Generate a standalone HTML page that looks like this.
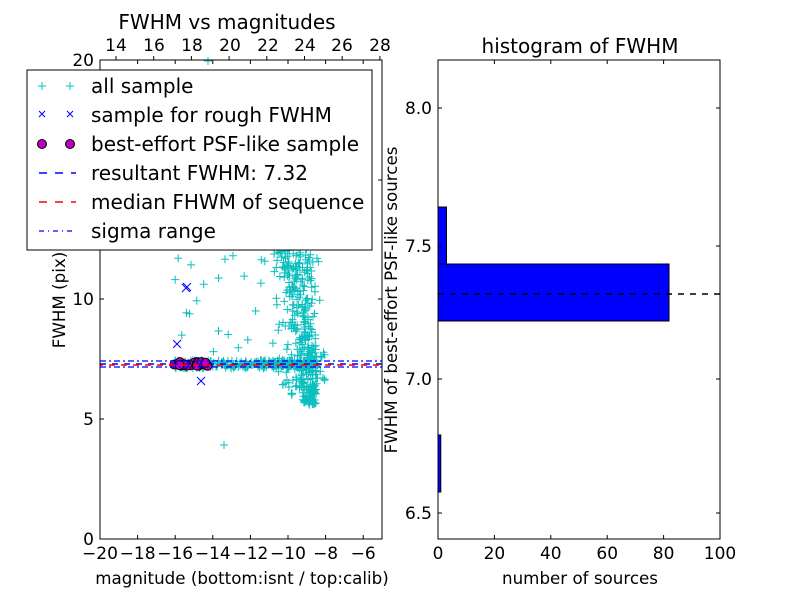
<!DOCTYPE html>
<html><head><meta charset="utf-8"><style>
body{margin:0;background:#fff;}
svg text{font-family:"DejaVu Sans","Liberation Sans",sans-serif;fill:#000;}
</style></head><body>
<svg id="s" width="800" height="600" xmlns="http://www.w3.org/2000/svg">
<rect width="800" height="600" fill="#fff"/>
<g id="pts"></g>
<line x1="100" y1="364" x2="382" y2="364" stroke="#00f" stroke-width="1.5" stroke-dasharray="6,6"/>
<line x1="100" y1="365" x2="382" y2="365" stroke="#f00" stroke-width="1.5" stroke-dasharray="6,6" stroke-dashoffset="3"/>
<line x1="100" y1="361" x2="382" y2="361" stroke="#00f" stroke-width="1.2" stroke-dasharray="6,3,2,3"/>
<line x1="100" y1="367" x2="382" y2="367" stroke="#00f" stroke-width="1.2" stroke-dasharray="6,3,2,3"/>
<rect x="100" y="60" width="282" height="479" fill="none" stroke="#000"/>
<g id="lt" stroke="#000"></g>
<g font-size="17" text-anchor="middle">
<text x="100" y="559">−20</text><text x="137.6" y="559">−18</text><text x="175.2" y="559">−16</text><text x="212.8" y="559">−14</text><text x="250.4" y="559">−12</text><text x="288" y="559">−10</text><text x="325.6" y="559">−8</text><text x="363.2" y="559">−6</text>
<text x="116" y="51">14</text><text x="154" y="51">16</text><text x="192" y="51">18</text><text x="230" y="51">20</text><text x="268" y="51">22</text><text x="305" y="51">24</text><text x="342" y="51">26</text><text x="380" y="51">28</text>
</g>
<g font-size="17" text-anchor="end">
<text x="94" y="545">0</text><text x="94" y="425">5</text><text x="94" y="305">10</text><text x="94" y="66">20</text>
</g>
<text x="227" y="29" font-size="20" text-anchor="middle">FWHM vs magnitudes</text>
<text x="242" y="584" font-size="16.7" text-anchor="middle">magnitude (bottom:isnt / top:calib)</text>
<text transform="translate(65,300) rotate(-90)" font-size="16.7" text-anchor="middle">FWHM (pix)</text>
<rect x="27" y="70" width="345" height="180" fill="#fff" stroke="#000"/>
<g font-size="20">
<text x="91" y="93">all sample</text><text x="91" y="122">sample for rough FWHM</text><text x="91" y="151">best-effort PSF-like sample</text><text x="91" y="180">resultant FWHM: 7.32</text><text x="91" y="209">median FHWM of sequence</text><text x="91" y="238">sigma range</text>
</g>
<g stroke="#0bbfbf" stroke-width="1"><path d="M38,86h8M42,82v8M66,86h8M70,82v8"/></g>
<g stroke="#00f" stroke-width="1"><path d="M39,111l6,6M45,111l-6,6M67,111l6,6M73,111l-6,6"/></g>
<circle cx="42" cy="144" r="4.5" fill="#bf00bf" stroke="#000"/><circle cx="70" cy="144" r="4.5" fill="#bf00bf" stroke="#000"/>
<line x1="39" y1="173" x2="76" y2="173" stroke="#00f" stroke-width="1.5" stroke-dasharray="8,8"/>
<line x1="39" y1="202" x2="76" y2="202" stroke="#f00" stroke-width="1.5" stroke-dasharray="8,8"/>
<line x1="39" y1="231" x2="76" y2="231" stroke="#00f" stroke-width="1.2" stroke-dasharray="5,4,1,4"/>
<rect x="438" y="435" width="2.8" height="57" fill="#00f" stroke="#000"/>
<rect x="438" y="207" width="8.5" height="57" fill="#00f" stroke="#000"/>
<rect x="438" y="264" width="231" height="57" fill="#00f" stroke="#000"/>
<line x1="438" y1="294" x2="720" y2="294" stroke="#000" stroke-width="1.5" stroke-dasharray="6,6"/>
<rect x="438" y="60" width="282" height="479" fill="none" stroke="#000"/>
<g id="rt" stroke="#000"></g>
<g font-size="17" text-anchor="middle">
<text x="438" y="559">0</text><text x="494.4" y="559">20</text><text x="550.8" y="559">40</text><text x="607.2" y="559">60</text><text x="663.6" y="559">80</text><text x="720" y="559">100</text>
</g>
<g font-size="17" text-anchor="end">
<text x="432" y="114">8.0</text><text x="432" y="252">7.5</text><text x="432" y="385">7.0</text><text x="432" y="519">6.5</text>
</g>
<text x="580" y="53" font-size="20" text-anchor="middle">histogram of FWHM</text>
<text x="580" y="584" font-size="16.7" text-anchor="middle">number of sources</text>
<text transform="translate(397,300) rotate(-90)" font-size="16.7" text-anchor="middle">FWHM of best-effort PSF-like sources</text>
</svg>
<script>
var ns="http://www.w3.org/2000/svg",g=document.getElementById('pts');
var seed=7;function r(){seed=(seed*16807)%2147483647;return seed/2147483647;}
function px(m){return 100+(m+20)*18.8}function py(f){return 539-f*23.95}
var d="";
function plus(x,y){if(x<101||x>381||y<61||y>538)return;d+="M"+(x-4).toFixed(1)+","+y.toFixed(1)+"h8M"+x.toFixed(1)+","+(y-4).toFixed(1)+"v8";}
var i;
for(i=0;i<250;i++){plus(px(-16+r()*7.5),py(7.3+(r()-0.5)*0.35));}
for(i=0;i<380;i++){var f=5.6+Math.pow(r(),1.15)*9;var w=0.7+(f-5.6)*0.15;var m=-8.5-r()*w-(f>8.5?r()*0.6:0);plus(px(m),py(f));}
for(i=0;i<60;i++){plus(px(-10.5+r()*2.5),py(6+r()*2));}
for(i=0;i<60;i++){plus(px(-10.8+r()*2.6),py(8.5+r()*6));}
for(i=0;i<35;i++){plus(px(-16+r()*7),py(7.8+r()*5));}
for(i=0;i<20;i++){plus(px(-10.3+r()*2),py(14+r()*6));}
plus(224,445);plus(208,61);
var p=document.createElementNS(ns,"path");p.setAttribute("d",d);p.setAttribute("stroke","#0bbfbf");p.setAttribute("fill","none");g.appendChild(p);
var xs=[[186,288],[187,287],[177,344],[201,381]],xd="";
xs.forEach(function(a){xd+="M"+(a[0]-4)+","+(a[1]-4)+"l8,8M"+(a[0]+4)+","+(a[1]-4)+"l-8,8";});
p=document.createElementNS(ns,"path");p.setAttribute("d",xd);p.setAttribute("stroke","#00f");g.appendChild(p);
for(i=0;i<30;i++){var c=document.createElementNS(ns,"circle");c.setAttribute("cx",174+r()*34);c.setAttribute("cy",362+r()*4);c.setAttribute("r",4.5);c.setAttribute("fill","#bf00bf");c.setAttribute("stroke","#000");g.appendChild(c);}
function tick(id,x1,y1,x2,y2){var l=document.createElementNS(ns,"line");l.setAttribute("x1",x1);l.setAttribute("y1",y1);l.setAttribute("x2",x2);l.setAttribute("y2",y2);document.getElementById(id).appendChild(l);}
for(i=0;i<8;i++){var x=100+i*37.6;tick('lt',x,539,x,535);tick('lt',x,60,x,64);}
for(i=0;i<8;i++){var x=116+i*37.7;tick('lt',x,60,x,56);}
[539,419,299,60].forEach(function(y){tick('lt',100,y,104,y);tick('lt',382,y,378,y);});
tick('lt',100,180,104,180);tick('lt',382,180,378,180);
for(i=0;i<6;i++){var x=438+i*56.4;tick('rt',x,539,x,535);tick('rt',x,60,x,64);}
[108,246,379,513].forEach(function(y){tick('rt',438,y,442,y);tick('rt',720,y,716,y);});
</script>
</body></html>
